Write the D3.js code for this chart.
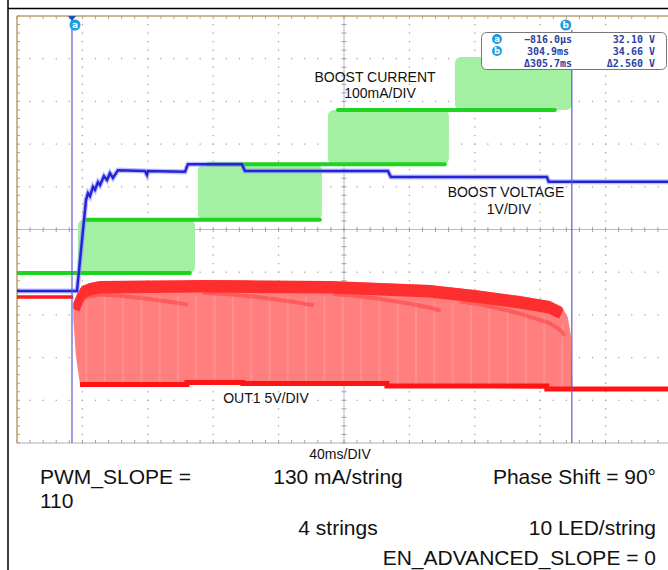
<!DOCTYPE html>
<html>
<head>
<meta charset="utf-8">
<title>Boost start-up scope capture</title>
<script src="https://cdn.jsdelivr.net/npm/d3@7"></script>
<style>
  body { margin:0; background:#fff; }
  svg { display:block; }
  .lbl { font-family:"Liberation Sans", Arial, sans-serif; font-size:14px; fill:#111; }
  .note { font-family:"Liberation Sans", Arial, sans-serif; font-size:21px; fill:#111; }
  .ro { font-family:"DejaVu Sans Mono", monospace; font-size:10px; font-weight:bold; fill:#2b3f9e; }
</style>
</head>
<body>
<div id="chart"></div>
<script>
// time base 40 ms/div, 10 div on screen
var timeDomain = [-34.45, 365.55];
var cursorTimes = [-0.816, 304.9];
var cursorNames = ["a", "b"];
var readTimes = ["\u2212816.0\u00b5s", "304.9ms", "\u0394305.7ms"];
var readVolts = ["32.10 V", "34.66 V", "\u03942.560 V"];

// BOOST CURRENT (green), mA, 100 mA/div
var currentLevels = [0, 125, 255, 382, 506];
var levelStart = [-34.45, 7.1, 82.3, 161.8];
var levelEnd = [71.3, 150.8, 227.2, 294.5];
var stepStart = [2.85, 76.2, 155.7, 233.4];
var stepEnd = [74.4, 152.0, 229.7, 304.9];

// BOOST VOLTAGE (blue), V, 1 V/div
var boostT = [-34.45, 2.24, 7.74, 8.96, 10.18, 12.02, 13.24, 15.08, 16.30, 18.74, 20.58, 22.41, 24.25, 27.31,
              43.81, 45.04, 45.65, 68.27, 70.11, 103.12, 104.96, 192.4, 194.2, 289.6, 290.8, 365.55];
var boostV = [32.10, 32.10, 34.23, 34.39, 34.32, 34.54, 34.47, 34.65, 34.58, 34.79, 34.70, 34.86, 34.75, 34.93,
              34.91, 34.82, 34.91, 34.89, 35.07, 35.07, 34.91, 34.91, 34.77, 34.77, 34.66, 34.66];

// OUT1 (red), V, 5 V/div
var outPreT = [-34.45, 0];
var outPreV = [10.77, 10.77];
var outTopT = [0, 2.85, 5.29, 10.18, 16.30, 77.44, 156.93, 218.07, 245.6, 273.1, 291.4, 298.8, 302.4, 304.3, 305.2];
var outTopV = [10.07, 11.36, 12.06, 12.41, 12.65, 12.76, 12.65, 12.18, 11.59, 10.89, 10.30, 9.60, 8.43, 6.32, 0.47];
var outLowT = [0, 1.5, 4.07, 69.5, 103.7, 191.8, 289.6, 365.55];
var outLowV = [8.2, 4.0, 0.53, 0.76, 0.64, 0.35, 0, 0];

var W = 668, H = 570;
var pL = 17, pR = 671, pT = 16, pB = 443;

var svg = d3.select("#chart").append("svg").attr("width", W).attr("height", H);

var x = d3.scaleLinear().domain(timeDomain).range([pL, pR]);
var divX = d3.scaleLinear().domain([0, 10]).range([pL, pR]);
var divY = d3.scaleLinear().domain([-5, 5]).range([pB, pT]);

// channel scales (position in div of each channel's zero)
var greenPos = -1.02, bluePos = 33.54, redPos = -3.735;
var yI = d3.scaleLinear().domain([(-5 - greenPos) * 100, (5 - greenPos) * 100]).range([pB, pT]);
var yB = d3.scaleLinear().domain([bluePos - 5, bluePos + 5]).range([pB, pT]);
var yR = d3.scaleLinear().domain([(-5 - redPos) * 5, (5 - redPos) * 5]).range([pB, pT]);

// page frame
svg.append("line").attr("x1", 8).attr("x2", W).attr("y1", 8.5).attr("y2", 8.5).attr("stroke", "#000").attr("stroke-width", 1.5);
svg.append("line").attr("x1", 8).attr("x2", 8).attr("y1", 0).attr("y2", H).attr("stroke", "#000").attr("stroke-width", 1.5);

svg.append("clipPath").attr("id", "plot").append("rect")
  .attr("x", pL).attr("y", pT).attr("width", pR - pL).attr("height", pB - pT);

// graticule
var grid = svg.append("g");
var minorX = d3.range(0, 10.001, 0.2), minorY = d3.range(-5, 5.001, 0.2);
d3.range(1, 10).filter(function(i){ return i != 5; }).forEach(function(i){
  grid.selectAll(null).data(minorY).enter().append("rect")
    .attr("x", divX(i) - 0.6).attr("y", function(d){ return divY(d) - 0.6; })
    .attr("width", 1.2).attr("height", 1.2).attr("fill", "#9a9a9a");
});
d3.range(-4, 5).filter(function(j){ return j != 0; }).forEach(function(j){
  grid.selectAll(null).data(minorX).enter().append("rect")
    .attr("x", function(d){ return divX(d) - 0.6; }).attr("y", divY(j) - 0.6)
    .attr("width", 1.2).attr("height", 1.2).attr("fill", "#9a9a9a");
});
// centre cross with ticks
grid.append("line").attr("x1", pL).attr("x2", pR).attr("y1", divY(0)).attr("y2", divY(0)).attr("stroke", "#b8b8c8");
grid.append("line").attr("x1", divX(5)).attr("x2", divX(5)).attr("y1", pT).attr("y2", pB).attr("stroke", "#b8b8c8");
grid.selectAll(".tx").data(minorX).enter().append("line")
  .attr("x1", function(d){ return divX(d); }).attr("x2", function(d){ return divX(d); })
  .attr("y1", divY(0) - 2.5).attr("y2", divY(0) + 2.5).attr("stroke", "#a0a0b0");
grid.selectAll(".ty").data(minorY).enter().append("line")
  .attr("y1", function(d){ return divY(d); }).attr("y2", function(d){ return divY(d); })
  .attr("x1", divX(5) - 2.5).attr("x2", divX(5) + 2.5).attr("stroke", "#a0a0b0");
// edges
grid.append("line").attr("x1", pL).attr("x2", pR).attr("y1", pB).attr("y2", pB).attr("stroke", "#b0b0b0");
grid.selectAll(".bt").data(minorX).enter().append("line")
  .attr("x1", function(d){ return divX(d); }).attr("x2", function(d){ return divX(d); })
  .attr("y1", pB - 3).attr("y2", pB).attr("stroke", "#a0a0a0");
grid.selectAll(".tt").data(minorX).enter().append("line")
  .attr("x1", function(d){ return divX(d); }).attr("x2", function(d){ return divX(d); })
  .attr("y1", pT).attr("y2", pT + 3).attr("stroke", "#b8a070");
grid.selectAll(".lt").data(minorY).enter().append("line")
  .attr("y1", function(d){ return divY(d); }).attr("y2", function(d){ return divY(d); })
  .attr("x1", pL).attr("x2", pL + 3).attr("stroke", "#b8a070");
grid.append("line").attr("x1", pL).attr("x2", pR).attr("y1", pT).attr("y2", pT).attr("stroke", "#b8a070").attr("stroke-width", 1.5);
grid.append("line").attr("x1", pL).attr("x2", pL).attr("y1", pT).attr("y2", pB).attr("stroke", "#b8a070").attr("stroke-width", 1.5);

var traces = svg.append("g").attr("clip-path", "url(#plot)");

// green: current steps
traces.selectAll(".band").data(stepStart).enter().append("rect")
  .attr("x", function(d){ return x(d); })
  .attr("width", function(d, i){ return x(stepEnd[i]) - x(d); })
  .attr("y", function(d, i){ return yI(currentLevels[i + 1]); })
  .attr("height", function(d, i){ return yI(currentLevels[i]) - yI(currentLevels[i + 1]); })
  .attr("rx", 6).attr("fill", "#a3f0a3");
traces.selectAll(".lvl").data(levelStart).enter().append("line")
  .attr("x1", function(d){ return x(d); })
  .attr("x2", function(d, i){ return x(levelEnd[i]); })
  .attr("y1", function(d, i){ return yI(currentLevels[i]); })
  .attr("y2", function(d, i){ return yI(currentLevels[i]); })
  .attr("stroke", "#1ed41e").attr("stroke-width", 4).attr("stroke-linecap", "round");

// red: OUT1
var top2 = d3.scaleLinear().domain(outTopT).range(outTopV);
var low2 = d3.scaleLinear().domain(outLowT).range(outLowV);
var fillT = Array.from(new Set(outTopT.concat(outLowT.filter(function(t){ return t <= 305.2; })))).sort(d3.ascending);
var redArea = d3.area().x(function(t){ return x(t); })
  .y0(function(t){ return yR(low2(t)); }).y1(function(t){ return yR(top2(t)); });
svg.append("clipPath").attr("id", "redfill").append("path").attr("d", redArea(fillT));
traces.append("path").attr("d", redArea(fillT)).attr("fill", "#ff7f7f");
var redFx = traces.append("g").attr("clip-path", "url(#redfill)");
redFx.selectAll(".stripe").data(d3.range(8, 300, 11.2)).enter().append("line")
  .attr("x1", function(t){ return x(t); }).attr("x2", function(t){ return x(t); })
  .attr("y1", function(t){ return yR(top2(t)) + 16; }).attr("y2", function(t){ return yR(low2(t)); })
  .attr("stroke", "#fff").attr("stroke-opacity", 0.12).attr("stroke-width", 2);
var envLine = d3.line().x(function(d){ return x(d[0]); }).y(function(d){ return yR(d[1]); });
var envPts = d3.zip(outTopT, outTopV).filter(function(d){ return d[0] < 300; });
redFx.append("path").attr("d", envLine(envPts))
  .attr("transform", "translate(0,6)").attr("fill", "none")
  .attr("stroke", "#ff2020").attr("stroke-opacity", 0.85).attr("stroke-width", 13);
// decaying arcs inside the dense band, one per current step
stepStart.forEach(function(s, i){
  var ts = d3.range(s + 3, stepEnd[i] - 4, 2);
  var n = ts.length;
  redFx.append("path").attr("d", d3.line().curve(d3.curveBasis)
      .x(function(t){ return x(t); })
      .y(function(t, k){ return yR(top2(t)) + 13 + 12 * Math.pow(k / n, 1.6); })(ts))
    .attr("fill", "none").attr("stroke", "#ff3030").attr("stroke-opacity", 0.45).attr("stroke-width", 4);
});
traces.append("path").attr("d", envLine(d3.zip(outPreT, outPreV)))
  .attr("fill", "none").attr("stroke", "#ff1a1a").attr("stroke-width", 3.5);
traces.append("path")
  .attr("d", d3.line().curve(d3.curveStepAfter).x(function(d){ return x(d[0]); }).y(function(d){ return yR(d[1]); })
    (d3.zip(outLowT, outLowV).slice(2)))
  .attr("fill", "none").attr("stroke", "#ff1414").attr("stroke-width", 5);

// blue: boost voltage
var boostLine = d3.line().x(function(d){ return x(d[0]); }).y(function(d){ return yB(d[1]); });
traces.append("path").attr("d", boostLine(d3.zip(boostT, boostV)))
  .attr("fill", "none").attr("stroke", "#8a8aff").attr("stroke-opacity", 0.55).attr("stroke-width", 5);
traces.append("path").attr("d", boostLine(d3.zip(boostT, boostV)))
  .attr("fill", "none").attr("stroke", "#2424d6").attr("stroke-width", 2.5);

// cursors
svg.selectAll(".cur").data(cursorTimes).enter().append("line")
  .attr("x1", function(d){ return x(d); }).attr("x2", function(d){ return x(d); })
  .attr("y1", function(d, i){ return i == 0 ? pT : 30; }).attr("y2", pB)
  .attr("stroke", "#5a5ad8").attr("stroke-width", 1.2);
svg.append("path").attr("d", "M" + (x(cursorTimes[0]) - 4) + "," + pT + "h8l-4,5z").attr("fill", "#1d4fb5");
var marks = svg.selectAll(".mk").data(cursorTimes).enter().append("g")
  .attr("transform", function(d, i){ return "translate(" + (x(d) + (i == 0 ? 3 : -6)) + ",25)"; });
marks.append("circle").attr("r", 5.5).attr("fill", "#1f9be0");
marks.append("text").text(function(d, i){ return cursorNames[i]; })
  .attr("text-anchor", "middle").attr("y", 3).attr("fill", "#fff")
  .style("font", "bold 9px 'DejaVu Sans', sans-serif");

// trace labels
svg.append("text").attr("class", "lbl").attr("x", 375).attr("y", 82).attr("text-anchor", "middle").text("BOOST CURRENT");
svg.append("text").attr("class", "lbl").attr("x", 380).attr("y", 98).attr("text-anchor", "middle").text("100mA/DIV");
svg.append("text").attr("class", "lbl").attr("x", 506).attr("y", 197).attr("text-anchor", "middle").text("BOOST VOLTAGE");
svg.append("text").attr("class", "lbl").attr("x", 509).attr("y", 214).attr("text-anchor", "middle").text("1V/DIV");
svg.append("text").attr("class", "lbl").attr("x", 266).attr("y", 403).attr("text-anchor", "middle").text("OUT1 5V/DIV");
svg.append("text").attr("class", "lbl").attr("x", 340).attr("y", 459).attr("text-anchor", "middle").text("40ms/DIV");

// cursor readout box
var box = svg.append("g");
box.append("rect").attr("x", 481.5).attr("y", 32.5).attr("width", 185).attr("height", 37).attr("rx", 5)
  .attr("fill", "#fff").attr("stroke", "#777");
readTimes.forEach(function(s, i){
  var yy = 43 + i * 12;
  if (i < 2) {
    box.append("circle").attr("cx", 497).attr("cy", yy - 4).attr("r", 5).attr("fill", "#1f9be0");
    box.append("text").attr("x", 497).attr("y", yy - 1).attr("text-anchor", "middle").attr("fill", "#fff")
      .style("font", "bold 8.5px 'DejaVu Sans', sans-serif").text(cursorNames[i]);
  }
  box.append("text").attr("class", "ro").attr("x", 548).attr("y", yy).attr("text-anchor", "middle").text(s);
  box.append("text").attr("class", "ro").attr("x", 655).attr("y", yy).attr("text-anchor", "end").text(readVolts[i]);
});

// test conditions
svg.append("text").attr("class", "note").attr("x", 40).attr("y", 484).text("PWM_SLOPE =");
svg.append("text").attr("class", "note").attr("x", 40).attr("y", 508).text("110");
svg.append("text").attr("class", "note").attr("x", 338).attr("y", 484).attr("text-anchor", "middle").text("130 mA/string");
svg.append("text").attr("class", "note").attr("x", 656).attr("y", 484).attr("text-anchor", "end").text("Phase Shift = 90\u00b0");
svg.append("text").attr("class", "note").attr("x", 338).attr("y", 535).attr("text-anchor", "middle").text("4 strings");
svg.append("text").attr("class", "note").attr("x", 656).attr("y", 535).attr("text-anchor", "end").text("10 LED/string");
svg.append("text").attr("class", "note").attr("x", 656).attr("y", 565).attr("text-anchor", "end").text("EN_ADVANCED_SLOPE = 0");
</script>
</body>
</html>
